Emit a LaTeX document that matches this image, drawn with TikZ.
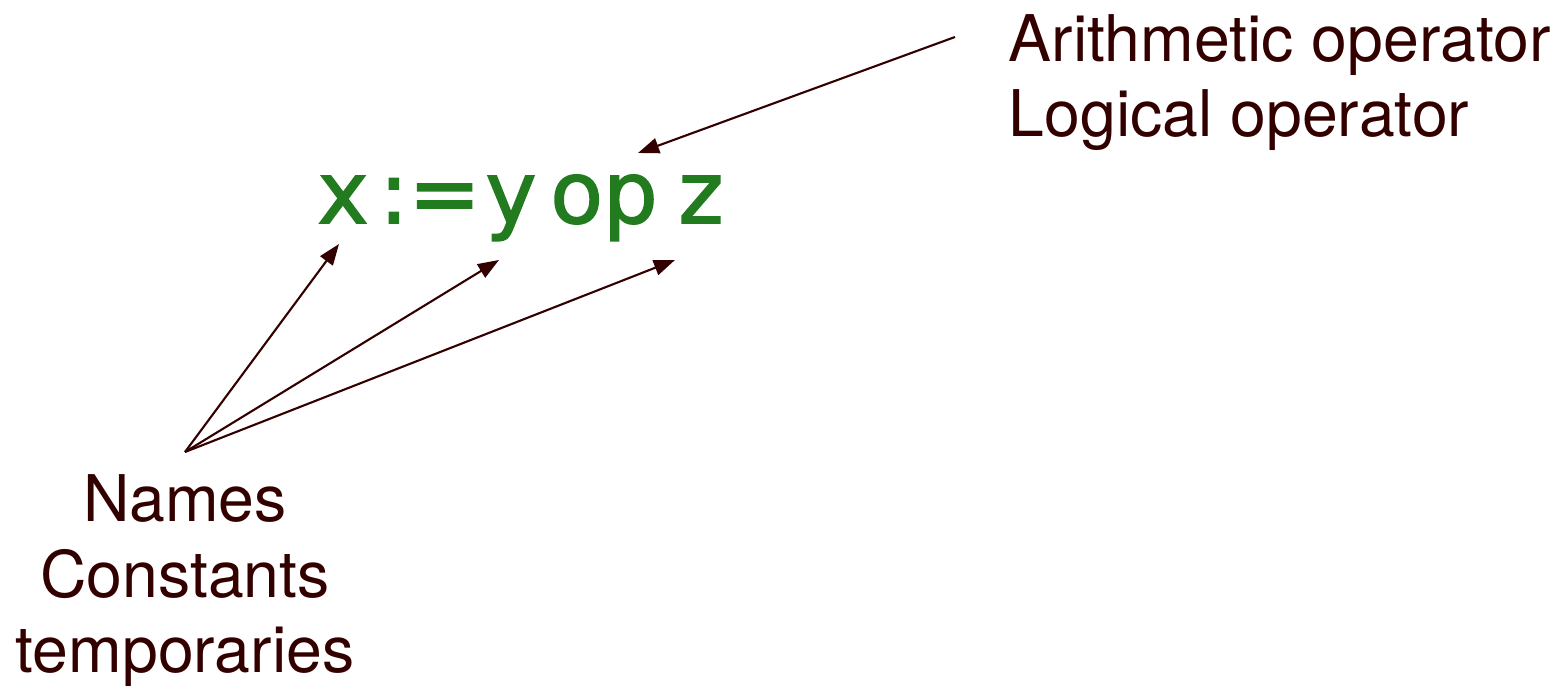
\documentclass[tikz,border=0pt]{standalone}
\usepackage{fontspec}
\setmainfont{TeX Gyre Heros}
\newfontfamily\eqfont[FakeBold=1.8]{DejaVu Sans}
\usetikzlibrary{arrows.meta, positioning}
\definecolor{darkred}{RGB}{51,0,0}
\definecolor{codegreen}{RGB}{34,124,31}

\begin{document}
\begin{tikzpicture}[x=0.01cm, y=-0.01cm,
    txt/.style={text=darkred, font=\fontsize{18.3}{21.5}\selectfont, inner sep=0pt},
    code/.style={text=codegreen, font=\eqfont\fontsize{24.5}{28}\selectfont, inner sep=0pt, anchor=base},
    arr/.style={draw=darkred, line width=0.6pt, -{Triangle[length=6pt,width=4.4pt]}}]

            \useasboundingbox (0,0) rectangle (1558,689);

            % the statement
            \node[code] (varx) at (343,223) {x};
            \node[code] (assign) at (430,223) {:=};
            \node[code] (vary) at (511,223) {y};
            \node[code] (op) at (604,223) {op};
            \node[code] (varz) at (701,223) {z};

            % labels (base = last line)
            \node[txt, anchor=base west, align=left] (ops) at (1008,137)
            {Arithmetic operator\\Logical operator};

            \node[txt, anchor=base, align=center] (names) at (185,673)
            {Names\\Constants\\temporaries};

            \coordinate (opsrc) at (955,37);
            \coordinate (optip) at (638,153);
            \coordinate (src) at (185,452);
            \coordinate (tipx) at (339,244);
            \coordinate (tipy) at (499,260);
            \coordinate (tipz) at (675,260);

            \draw[arr] (opsrc) -- (optip);
            \draw[arr] (src) -- (tipx);
            \draw[arr] (src) -- (tipy);
            \draw[arr] (src) -- (tipz);

        \end{tikzpicture}
\end{document}
